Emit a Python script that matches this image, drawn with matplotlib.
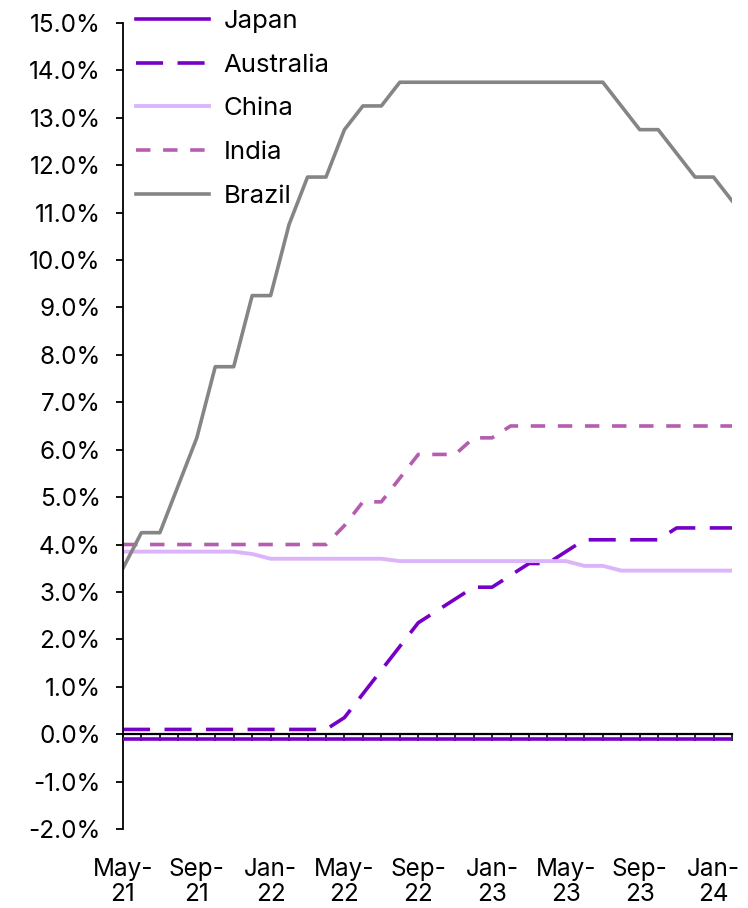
import matplotlib.pyplot as plt
import numpy as np

plt.rcParams["font.family"] = ["Inter", "DejaVu Sans"]

# monthly, May-21 .. Feb-24
months = ["May-21", "Jun-21", "Jul-21", "Aug-21", "Sep-21", "Oct-21", "Nov-21", "Dec-21",
          "Jan-22", "Feb-22", "Mar-22", "Apr-22", "May-22", "Jun-22", "Jul-22", "Aug-22",
          "Sep-22", "Oct-22", "Nov-22", "Dec-22", "Jan-23", "Feb-23", "Mar-23", "Apr-23",
          "May-23", "Jun-23", "Jul-23", "Aug-23", "Sep-23", "Oct-23", "Nov-23", "Dec-23",
          "Jan-24", "Feb-24"]

japan = [-0.10] * 34
australia = [0.10, 0.10, 0.10, 0.10, 0.10, 0.10, 0.10, 0.10,
             0.10, 0.10, 0.10, 0.10, 0.35, 0.85, 1.35, 1.85,
             2.35, 2.60, 2.85, 3.10, 3.10, 3.35, 3.60, 3.60,
             3.85, 4.10, 4.10, 4.10, 4.10, 4.10, 4.35, 4.35,
             4.35, 4.35]
china = [3.85, 3.85, 3.85, 3.85, 3.85, 3.85, 3.85, 3.80,
         3.70, 3.70, 3.70, 3.70, 3.70, 3.70, 3.70, 3.65,
         3.65, 3.65, 3.65, 3.65, 3.65, 3.65, 3.65, 3.65,
         3.65, 3.55, 3.55, 3.45, 3.45, 3.45, 3.45, 3.45,
         3.45, 3.45]
india = [4.00, 4.00, 4.00, 4.00, 4.00, 4.00, 4.00, 4.00,
         4.00, 4.00, 4.00, 4.00, 4.40, 4.90, 4.90, 5.40,
         5.90, 5.90, 5.90, 6.25, 6.25, 6.50, 6.50, 6.50,
         6.50, 6.50, 6.50, 6.50, 6.50, 6.50, 6.50, 6.50,
         6.50, 6.50]
brazil = [3.50, 4.25, 4.25, 5.25, 6.25, 7.75, 7.75, 9.25,
          9.25, 10.75, 11.75, 11.75, 12.75, 13.25, 13.25, 13.75,
          13.75, 13.75, 13.75, 13.75, 13.75, 13.75, 13.75, 13.75,
          13.75, 13.75, 13.75, 13.25, 12.75, 12.75, 12.25, 11.75,
          11.75, 11.25]

PURPLE = "#7700c8"
LAVENDER = "#dcb4fa"
PINK = "#b55daf"
GREY = "#858585"

x = np.arange(len(months))

fig = plt.figure(figsize=(7.48, 9.08), dpi=100)
ax = fig.add_axes([0.1644, 0.087, 0.8142, 0.8877])

ax.plot(x, japan, color=PURPLE, lw=2.6, label="Japan", zorder=4)
ax.plot(x, australia, color=PURPLE, lw=2.6, dashes=(7.5, 4), label="Australia")
ax.plot(x, china, color=LAVENDER, lw=2.8, label="China")
ax.plot(x, india, color=PINK, lw=2.6, dashes=(4, 3.5), label="India")
ax.plot(x, brazil, color=GREY, lw=2.6, label="Brazil")

ax.set_xlim(0, len(months) - 1)
ax.set_ylim(-2, 15)
ax.set_yticks(np.arange(-2, 16, 1))
ax.set_yticklabels([f"{v:.1f}%" for v in np.arange(-2, 16, 1)])

for s in ["top", "right"]:
    ax.spines[s].set_visible(False)
ax.spines["bottom"].set_position(("data", 0))
ax.spines["bottom"].set_linewidth(1.6)
ax.spines["left"].set_linewidth(1.3)

ax.set_xticks(x, minor=True)
major = x[::4]
ax.set_xticks(major)
ax.set_xticklabels([months[i].replace("-", "-\n") for i in major], linespacing=1.15)

ax.tick_params(axis="y", labelsize=17.5, length=5, width=1.3, pad=11)
ax.tick_params(axis="x", which="both", direction="out", length=5, width=1.2)
ax.tick_params(axis="x", which="major", labelsize=17.5, pad=84)

ax.legend(loc="upper left", bbox_to_anchor=(-0.008, 1.038), frameon=False, fontsize=18.5,
          handlelength=2.85, handletextpad=0.55, labelspacing=0.8, borderaxespad=0.3)

fig.savefig("out.png", dpi=100)
